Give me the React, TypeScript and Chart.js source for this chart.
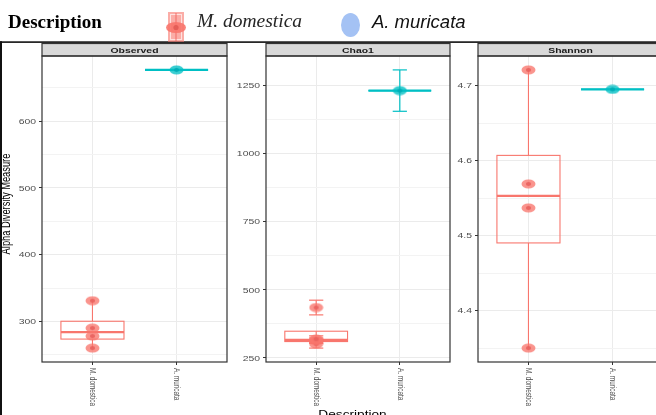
import { useEffect, useRef } from 'react';
import { Chart, registerables } from 'chart.js';

Chart.register(...registerables);

// ---------------- data ----------------
const groups = ['M. domestica', 'A. muricata'];
const panelTitles = ['Observed', 'Chao1', 'Shannon'];

const observedDomestica = [260, 278, 290, 331];
const observedMuricata = [677];

const chao1Domestica = [301, 313, 319, 435];
const chao1DomesticaSE = [15, 10, 12, 27];
const chao1Muricata = [1232];
const chao1MuricataSE = [76];

const shannonDomestica = [4.35, 4.537, 4.569, 4.721];
const shannonMuricata = [4.695];

const observedTicks = [300, 400, 500, 600];
const observedMinor = [250, 350, 450, 550, 650];
const chao1Ticks = [250, 500, 750, 1000, 1250];
const chao1Minor = [375, 625, 875, 1125];
const shannonTicks = [4.4, 4.5, 4.6, 4.7];
const shannonMinor = [4.35, 4.45, 4.55, 4.65];

const yAxisTitle = 'Alpha Diversity Measure';
const xAxisTitle = 'Description';
const legendTitle = 'Description';

// ---------------- styles / layout ----------------
const groupColors = ['#F8766D', '#00BFC4'];
const groupRGB: [number, number, number][] = [
  [248, 118, 109],
  [0, 191, 196],
];
const Y_W = 40;
const CANVAS_TOP = 43;
const CANVAS_H = 415 - CANVAS_TOP;
const STRIP_H = 13;
const X_AXIS_H = 53;
const BOX_HALF = 0.375;
const CAP_HALF = 0.085;
const STRETCH = 1.3;
const SANS = '"Liberation Sans", Arial, Helvetica, sans-serif';

type Panel = {
  title: string;
  values: number[][];
  se: number[][] | null;
  major: number[];
  minor: number[];
  left: number;
  width: number;
};

const panels: Panel[] = [
  {
    title: panelTitles[0],
    values: [observedDomestica, observedMuricata],
    se: null,
    major: observedTicks,
    minor: observedMinor,
    left: 42,
    width: 185,
  },
  {
    title: panelTitles[1],
    values: [chao1Domestica, chao1Muricata],
    se: [chao1DomesticaSE, chao1MuricataSE],
    major: chao1Ticks,
    minor: chao1Minor,
    left: 266,
    width: 184,
  },
  {
    title: panelTitles[2],
    values: [shannonDomestica, shannonMuricata],
    se: null,
    major: shannonTicks,
    minor: shannonMinor,
    left: 478,
    width: 185,
  },
];

function quantile(s: number[], p: number) {
  const h = (s.length - 1) * p;
  const lo = Math.floor(h);
  const hi = Math.ceil(h);
  return s[lo] + (h - lo) * (s[hi] - s[lo]);
}

function boxStats(vals: number[]) {
  const s = [...vals].sort((a, b) => a - b);
  const q1 = quantile(s, 0.25);
  const med = quantile(s, 0.5);
  const q3 = quantile(s, 0.75);
  const iqr = q3 - q1;
  const lower = s.filter((v) => v >= q1 - 1.5 * iqr);
  const upper = s.filter((v) => v <= q3 + 1.5 * iqr);
  return { q1, med, q3, lo: lower[0], hi: upper[upper.length - 1] };
}

function yLimits(values: number[][], se: number[][] | null) {
  let lo = Infinity;
  let hi = -Infinity;
  values.forEach((g, gi) =>
    g.forEach((v, i) => {
      const e = se ? se[gi][i] : 0;
      lo = Math.min(lo, v - e);
      hi = Math.max(hi, v + e);
    })
  );
  const pad = (hi - lo) * 0.05;
  return [lo - pad, hi + pad];
}

function makePointImage(rgb: [number, number, number]) {
  const c = document.createElement('canvas');
  c.width = 15;
  c.height = 10;
  const g = c.getContext('2d')!;
  const [r, gg, b] = rgb;
  g.fillStyle = `rgba(${r},${gg},${b},0.78)`;
  g.beginPath();
  g.ellipse(7.5, 5, 7, 4.6, 0, 0, Math.PI * 2);
  g.fill();
  g.fillStyle = `rgba(${Math.max(r - 15, 0)},${Math.max(gg - 20, 0)},${Math.max(b - 15, 0)},0.9)`;
  g.beginPath();
  g.ellipse(7.5, 5, 2.6, 2, 0, 0, Math.PI * 2);
  g.fill();
  return c;
}

function line(ctx: CanvasRenderingContext2D, x1: number, y1: number, x2: number, y2: number) {
  ctx.beginPath();
  ctx.moveTo(x1, y1);
  ctx.lineTo(x2, y2);
  ctx.stroke();
}

function makeFacetPlugin(panel: Panel) {
  return {
    id: 'facet' + panel.title,
    beforeDatasetsDraw(chart: any) {
      const { ctx, chartArea: a } = chart;
      const x = chart.scales.x;
      const y = chart.scales.y;
      ctx.save();
      ctx.beginPath();
      ctx.rect(a.left, a.top, a.right - a.left, a.bottom - a.top);
      ctx.clip();
      panel.values.forEach((vals, gi) => {
        const color = groupColors[gi];
        const b = boxStats(vals);
        const cx = x.getPixelForValue(gi + 1);
        const half = x.getPixelForValue(gi + 1 + BOX_HALF) - cx;
        const yq1 = y.getPixelForValue(b.q1);
        const yq3 = y.getPixelForValue(b.q3);
        const ymed = y.getPixelForValue(b.med);
        ctx.strokeStyle = color;
        ctx.lineWidth = 1.1;
        line(ctx, cx, yq3, cx, y.getPixelForValue(b.hi));
        line(ctx, cx, yq1, cx, y.getPixelForValue(b.lo));
        ctx.strokeRect(cx - half, yq3, 2 * half, yq1 - yq3);
        ctx.lineWidth = 2.4;
        line(ctx, cx - half, ymed, cx + half, ymed);
        if (panel.se) {
          const cap = x.getPixelForValue(gi + 1 + CAP_HALF) - cx;
          ctx.lineWidth = 1.2;
          vals.forEach((v, i) => {
            const e = panel.se![gi][i];
            const yt = y.getPixelForValue(v + e);
            const yb = y.getPixelForValue(v - e);
            line(ctx, cx, yt, cx, yb);
            line(ctx, cx - cap, yt, cx + cap, yt);
            line(ctx, cx - cap, yb, cx + cap, yb);
          });
        }
      });
      ctx.restore();
    },
    afterDraw(chart: any) {
      const { ctx, chartArea: a } = chart;
      const x = chart.scales.x;
      const y = chart.scales.y;
      const w = a.right - a.left;
      ctx.save();
      // strip
      ctx.fillStyle = '#D9D9D9';
      ctx.fillRect(a.left, 0.5, w, a.top - 0.5);
      ctx.strokeStyle = '#333333';
      ctx.lineWidth = 1.2;
      ctx.strokeRect(a.left, 0.5, w, a.top - 0.5);
      // panel border
      ctx.strokeRect(a.left, a.top, w, a.bottom - a.top);
      // strip title
      ctx.fillStyle = '#1A1A1A';
      ctx.font = `bold 8px ${SANS}`;
      ctx.textAlign = 'center';
      ctx.textBaseline = 'middle';
      ctx.save();
      ctx.translate((a.left + a.right) / 2, a.top / 2 + 0.8);
      ctx.scale(STRETCH, 1);
      ctx.fillText(panel.title, 0, 0);
      ctx.restore();
      // y tick labels
      ctx.fillStyle = '#4D4D4D';
      ctx.font = `8px ${SANS}`;
      ctx.textAlign = 'right';
      panel.major.forEach((v) => {
        const py = y.getPixelForValue(v);
        ctx.save();
        ctx.translate(a.left - 6, py + 0.5);
        ctx.scale(STRETCH, 1);
        ctx.fillText(String(v), 0, 0);
        ctx.restore();
      });
      // x tick labels (rotated, reading downward)
      ctx.font = `6.4px ${SANS}`;
      ctx.textAlign = 'left';
      groups.forEach((g, gi) => {
        const px = x.getPixelForValue(gi + 1);
        ctx.save();
        ctx.translate(px, a.bottom + 6);
        ctx.rotate(Math.PI / 2);
        ctx.scale(1, STRETCH);
        ctx.fillText(g, 0, 0);
        ctx.restore();
      });
      ctx.restore();
    },
  };
}

function makeConfig(panel: Panel, pointImages: HTMLCanvasElement[]): any {
  const [ymin, ymax] = yLimits(panel.values, panel.se);
  const majorSet = new Set(panel.major);
  const allTicks = [...panel.major, ...panel.minor].sort((a, b) => a - b);
  return {
    type: 'scatter',
    data: {
      datasets: panel.values.map((vals, gi) => ({
        label: groups[gi],
        data: vals.map((v) => ({ x: gi + 1, y: v })),
        pointStyle: pointImages[gi],
        pointRadius: 5,
        pointHoverRadius: 5,
        showLine: false,
      })),
    },
    options: {
      responsive: false,
      animation: false,
      devicePixelRatio: 1,
      events: [],
      layout: { autoPadding: false, padding: { top: STRIP_H, right: 2, left: 0, bottom: 0 } },
      plugins: { legend: { display: false }, tooltip: { enabled: false } },
      scales: {
        x: {
          type: 'linear',
          min: 0.4,
          max: 2.6,
          afterBuildTicks: (s: any) => {
            s.ticks = [{ value: 1 }, { value: 2 }];
          },
          afterFit: (s: any) => {
            s.height = X_AXIS_H;
          },
          ticks: { display: false },
          grid: { color: '#EBEBEB', lineWidth: 1, tickLength: 3, tickColor: '#333333' },
          border: { display: false },
        },
        y: {
          type: 'linear',
          min: ymin,
          max: ymax,
          afterBuildTicks: (s: any) => {
            s.ticks = allTicks.map((v) => ({ value: v }));
          },
          afterFit: (s: any) => {
            s.width = Y_W;
          },
          ticks: { display: false },
          grid: {
            color: (c: any) => (majorSet.has(c.tick?.value) ? '#EBEBEB' : '#F3F3F3'),
            lineWidth: 1,
            tickLength: 3,
            tickColor: (c: any) => (majorSet.has(c.tick?.value) ? '#333333' : 'rgba(0,0,0,0)'),
          },
          border: { display: false },
        },
      },
    },
    plugins: [makeFacetPlugin(panel)],
  };
}

function drawOverlay(c: HTMLCanvasElement) {
  const ctx = c.getContext('2d')!;
  ctx.clearRect(0, 0, c.width, c.height);
  // frame lines
  ctx.fillStyle = '#111111';
  ctx.fillRect(0, 41.3, 656, 1.6);
  ctx.fillRect(0, 41.3, 2, 415 - 41.3);
  // legend title
  ctx.fillStyle = '#000000';
  ctx.textAlign = 'left';
  ctx.textBaseline = 'alphabetic';
  ctx.font = 'bold 19px "Liberation Serif", "Times New Roman", serif';
  ctx.fillText(legendTitle, 8, 28);
  // legend key 1 (boxplot glyph)
  ctx.fillStyle = 'rgba(248,118,109,0.6)';
  ctx.fillRect(168, 12, 16, 30);
  ctx.strokeStyle = 'rgba(255,255,255,0.65)';
  ctx.lineWidth = 1;
  ctx.strokeRect(170.5, 14.5, 11, 25);
  ctx.strokeStyle = 'rgba(240,100,95,0.9)';
  ctx.beginPath();
  ctx.moveTo(176, 13);
  ctx.lineTo(176, 41);
  ctx.stroke();
  ctx.fillStyle = 'rgba(248,118,109,0.9)';
  ctx.beginPath();
  ctx.ellipse(176, 27.5, 10, 5.5, 0, 0, Math.PI * 2);
  ctx.fill();
  ctx.fillStyle = '#E45E57';
  ctx.beginPath();
  ctx.ellipse(176, 27.5, 2.6, 2.6, 0, 0, Math.PI * 2);
  ctx.fill();
  ctx.fillStyle = '#262626';
  ctx.font = 'italic 19.5px "Liberation Serif", "Times New Roman", serif';
  ctx.fillText(groups[0], 197, 27);
  // legend key 2
  ctx.fillStyle = '#A4C2F4';
  ctx.beginPath();
  ctx.ellipse(350.5, 25, 9.5, 12, 0, 0, Math.PI * 2);
  ctx.fill();
  ctx.fillStyle = '#111111';
  ctx.font = `italic 18.5px ${SANS}`;
  ctx.fillText(groups[1], 372, 28);
  // y axis title
  ctx.fillStyle = '#000000';
  ctx.font = `9.3px ${SANS}`;
  ctx.textAlign = 'center';
  ctx.textBaseline = 'middle';
  ctx.save();
  ctx.translate(7, 204);
  ctx.rotate(-Math.PI / 2);
  ctx.scale(1, STRETCH);
  ctx.fillText(yAxisTitle, 0, 0);
  ctx.restore();
  // x axis title (cut at the bottom)
  ctx.save();
  ctx.font = `10.5px ${SANS}`;
  ctx.textBaseline = 'alphabetic';
  ctx.translate(352.5, 417.5);
  ctx.scale(STRETCH, 1);
  ctx.fillText(xAxisTitle, 0, 0);
  ctx.restore();
}

export default function App() {
  const overlayRef = useRef<HTMLCanvasElement>(null);
  const r0 = useRef<HTMLCanvasElement>(null);
  const r1 = useRef<HTMLCanvasElement>(null);
  const r2 = useRef<HTMLCanvasElement>(null);
  const refs = [r0, r1, r2];

  useEffect(() => {
    const pointImages = groupRGB.map((rgb) => makePointImage(rgb));
    const charts = panels.map((p, i) => new Chart(refs[i].current!, makeConfig(p, pointImages)));
    if (overlayRef.current) drawOverlay(overlayRef.current);
    return () => charts.forEach((c) => c.destroy());
  }, []);

  return (
    <div
      style={{
        position: 'fixed',
        left: 0,
        top: 0,
        width: 656,
        height: 415,
        background: '#ffffff',
        overflow: 'hidden',
      }}
    >
      {panels.map((p, i) => (
        <canvas
          key={p.title}
          ref={refs[i]}
          width={Y_W + p.width + 2}
          height={CANVAS_H}
          style={{
            position: 'absolute',
            left: p.left - Y_W,
            top: CANVAS_TOP,
            width: Y_W + p.width + 2,
            height: CANVAS_H,
          }}
        />
      ))}
      <canvas
        ref={overlayRef}
        width={656}
        height={415}
        style={{ position: 'absolute', left: 0, top: 0, width: 656, height: 415, pointerEvents: 'none' }}
      />
    </div>
  );
}
